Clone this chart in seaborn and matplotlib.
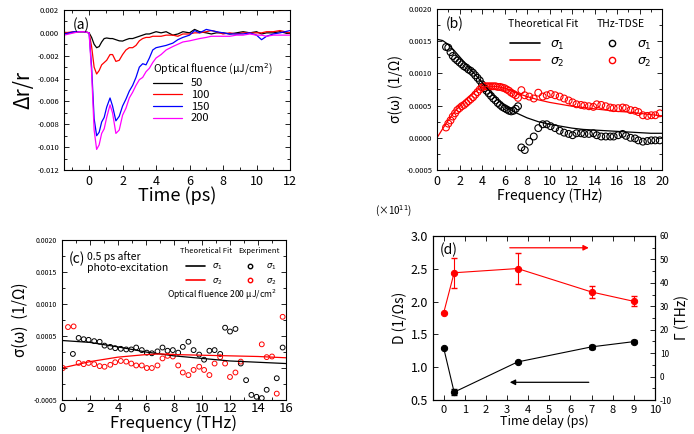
import numpy as np
import pandas as pd
import matplotlib
matplotlib.use("Agg")
import matplotlib.pyplot as plt
from matplotlib.lines import Line2D
from matplotlib.ticker import MultipleLocator, FormatStrFormatter
import seaborn as sns

sns.set_style("ticks")
plt.rcParams['font.family'] = ['Noto Sans CJK JP', 'DejaVu Sans']
plt.rcParams['axes.unicode_minus'] = False
plt.rcParams['mathtext.fontset'] = 'dejavusans'
for k in ['text.color', 'axes.labelcolor', 'axes.edgecolor', 'xtick.color', 'ytick.color']:
    plt.rcParams[k] = 'black'

# ---- panel (a): transient reflectivity
t_ps = [-1.5, -1.2, -0.9, -0.6, -0.3, 0.0, 0.15, 0.3, 0.45, 0.6, 0.75, 0.9, 1.05, 1.25, 1.4, 1.6, 1.8,
        2.0, 2.2, 2.4, 2.6, 2.8, 3.0, 3.2, 3.4, 3.6, 3.8, 4.0, 4.3, 4.6, 5.0, 5.3, 5.6, 6.0, 6.3, 6.6,
        7.0, 7.3, 7.6, 8.0, 8.4, 8.8, 9.2, 9.6, 10.0, 10.3, 10.6, 11.0, 11.4, 11.7, 12.0]
dr_50 = [0.00005, 0.0, 0.00005, 0.0001, 0.0001, 0.0, -0.0004, -0.0010, -0.0013, -0.0012, -0.0008, -0.0005,
         -0.00045, -0.0005, -0.0005, -0.0006, -0.0007, -0.00072, -0.0006, -0.0005, -0.0005, -0.0004, -0.0003,
         -0.0002, -0.0001, -0.0001, 0.0, 0.0001, 0.0, 0.0001, -0.0002, -0.0001, 0.0001, 0.0, 0.0003, 0.0001,
         0.0, -0.0001, 0.0, 0.0, -0.0001, 0.0, 0.0001, 0.0, 0.0001, -0.0001, 0.0, 0.0, 0.0001, 0.0, 0.0]
dr_100 = [0.0, 0.00005, 0.0001, 0.0001, 0.0001, 0.0, -0.0012, -0.0030, -0.0036, -0.0033, -0.0028, -0.0026,
          -0.0024, -0.0019, -0.0019, -0.0025, -0.0024, -0.0019, -0.0015, -0.0013, -0.0013, -0.0011, -0.0007,
          -0.0005, -0.0004, -0.0004, -0.0003, -0.0003, -0.0003, -0.0002, -0.0002, -0.0003, -0.0001, -0.0001,
          0.0, 0.0, 0.0001, 0.0002, 0.0001, -0.0001, 0.0, -0.0001, 0.0, 0.0, 0.0, 0.0, 0.0001, 0.0001, 0.0002,
          0.0001, 0.0]
dr_150 = [-0.0001, 0.0, 0.0001, 0.0001, 0.0001, 0.0, -0.0030, -0.0075, -0.0090, -0.0087, -0.0078, -0.0074,
          -0.0065, -0.0057, -0.0064, -0.0077, -0.0073, -0.0064, -0.0058, -0.0051, -0.0046, -0.0039, -0.0030,
          -0.0027, -0.0028, -0.0022, -0.0015, -0.0013, -0.0012, -0.0011, -0.0009, -0.0006, -0.0004, -0.0002,
          0.0002, 0.0, 0.0003, 0.0002, 0.0001, 0.0, -0.0001, -0.0001, -0.0001, 0.0, -0.0002, -0.0006, -0.0003,
          -0.0001, 0.0, 0.0001, 0.0002]
dr_200 = [-0.0002, -0.0001, 0.0, 0.0001, 0.0001, 0.0, -0.0035, -0.0085, -0.0102, -0.0098, -0.0088, -0.0084,
          -0.0074, -0.0063, -0.0070, -0.0088, -0.0085, -0.0072, -0.0066, -0.0057, -0.0052, -0.0046, -0.0041,
          -0.0039, -0.0034, -0.0031, -0.0026, -0.0022, -0.0019, -0.0015, -0.0012, -0.0010, -0.0008, -0.0007,
          -0.0006, -0.0005, -0.0004, -0.0003, -0.0003, -0.0003, -0.0003, -0.0002, -0.0002, -0.0001, -0.0002,
          -0.0002, -0.0003, -0.0002, -0.0002, -0.0002, -0.0002]
fluence_labels = ['50', '100', '150', '200']
fluence_colors = ['black', 'red', 'blue', 'magenta']

# ---- panel (b): conductivity spectra
f_fit_b = [0, 0.5, 1, 1.5, 2, 2.5, 3, 3.5, 4, 4.5, 5, 5.5, 6, 6.5, 7, 7.5, 8, 9, 10, 11, 12, 13, 14, 15,
           16, 17, 18, 19, 20]
s1_fit_b = [0.00153, 0.00151, 0.00145, 0.00136, 0.00126, 0.00116, 0.00106, 0.00096, 0.00086, 0.00076,
            0.00066, 0.00057, 0.00050, 0.00044, 0.00039, 0.00035, 0.00031, 0.00025, 0.00021, 0.00018,
            0.00015, 0.00013, 0.00012, 0.00011, 0.00010, 0.00009, 0.00008, 0.00007, 0.00007]
s2_fit_b = [0.0, 0.00014, 0.00027, 0.00039, 0.00049, 0.00058, 0.00066, 0.00073, 0.00078, 0.00080, 0.00080,
            0.00079, 0.00077, 0.00074, 0.00070, 0.00067, 0.00064, 0.00059, 0.00055, 0.00052, 0.00049,
            0.00047, 0.00045, 0.00043, 0.00041, 0.00040, 0.00038, 0.00036, 0.00034]
f_exp_b = [0.8, 1.0, 1.2, 1.4, 1.6, 1.8, 2.0, 2.2, 2.4, 2.6, 2.8, 3.0, 3.2, 3.4, 3.6, 3.8, 4.0, 4.2, 4.4,
           4.6, 4.8, 5.0, 5.2, 5.4, 5.6, 5.8, 6.0, 6.2, 6.4, 6.6, 6.8, 7.0, 7.2,
           7.5, 7.8, 8.2, 8.6, 9.0, 9.4, 9.75, 10.1, 10.5, 10.9, 11.3, 11.7, 12.05, 12.4, 12.8, 13.1, 13.5,
           13.9, 14.2, 14.6, 15.0, 15.4, 15.7, 16.1, 16.5, 16.8, 17.2, 17.6, 17.9, 18.3, 18.7, 19.05, 19.4,
           19.8]
s1_exp_b = [0.00141, 0.00140, 0.00133, 0.00127, 0.00123, 0.00120, 0.00117, 0.00114, 0.00111, 0.00109,
            0.00106, 0.00104, 0.00101, 0.00097, 0.00093, 0.00089, 0.00083, 0.00077, 0.00073, 0.00069,
            0.00065, 0.00061, 0.00058, 0.00054, 0.00051, 0.00048, 0.00046, 0.00044, 0.00042, 0.00041,
            0.00042, 0.00045, 0.00049,
            -0.00015, -0.00019, -0.00006, 0.00002, 0.00015, 0.00021, 0.00021, 0.00018, 0.00015, 0.00011,
            0.00008, 0.00006, 0.00004, 0.00007, 0.00007, 0.00006, 0.00006, 0.00007, 0.00004, 0.00002,
            0.00002, 0.00002, 0.00002, 0.00004, 0.00006, 0.00003, 0.0, -0.00001, -0.00004, -0.00006,
            -0.00005, -0.00004, -0.00004, -0.00004]
s2_exp_b = [0.00016, 0.00022, 0.00027, 0.00033, 0.00038, 0.00043, 0.00046, 0.00049, 0.00051, 0.00054,
            0.00057, 0.00060, 0.00063, 0.00067, 0.00071, 0.00075, 0.00078, 0.00080, 0.00080, 0.00080,
            0.00080, 0.00080, 0.00080, 0.00079, 0.00079, 0.00078, 0.00077, 0.00075, 0.00073, 0.00070,
            0.00068, 0.00066, 0.00062,
            0.00074, 0.00066, 0.00064, 0.00061, 0.00070, 0.00064, 0.00066, 0.00068, 0.00066, 0.00064,
            0.00061, 0.00058, 0.00055, 0.00052, 0.00051, 0.00050, 0.00049, 0.00048, 0.00052, 0.00051,
            0.00049, 0.00047, 0.00046, 0.00046, 0.00047, 0.00046, 0.00043, 0.00042, 0.00040, 0.00035,
            0.00034, 0.00035, 0.00035, 0.00038]

# ---- panel (c): 0.5 ps after photo-excitation
f_fit_c = [0, 2, 4, 6, 7, 8, 10, 12, 14, 16]
s1_fit_c = [0.00043, 0.00040, 0.00033, 0.00025, 0.00022, 0.00019, 0.00015, 0.00011, 0.00009, 0.00007]
s2_fit_c = [0.0, 0.00010, 0.00017, 0.00021, 0.00022, 0.00021, 0.00020, 0.00019, 0.00018, 0.00016]
f1_exp_c = [0.78, 1.19, 1.55, 1.9, 2.3, 2.69, 3.04, 3.45, 3.8, 4.2, 4.59, 4.95, 5.3, 5.7, 6.06, 6.42, 6.82,
            7.18, 7.54, 7.92, 8.3, 8.63, 9.03, 9.4, 9.8, 10.15, 10.53, 10.9, 11.3, 11.65, 12.0, 12.39,
            12.77, 13.15, 13.53, 13.9, 14.27, 14.62, 15.34, 15.76]
s1_exp_c = [0.00022, 0.00047, 0.00045, 0.00044, 0.00042, 0.00041, 0.00035, 0.00033, 0.00031, 0.00030,
            0.00029, 0.00029, 0.00032, 0.00028, 0.00024, 0.00023, 0.00026, 0.00032, 0.00027, 0.00028,
            0.00024, 0.00033, 0.00041, 0.00028, 0.00021, 0.00013, 0.00027, 0.00028, 0.00022, 0.00063,
            0.00057, 0.00061, 0.00007, -0.00019, -0.00042, -0.00045, -0.00047, -0.00034, -0.00016, 0.00032]
f2_exp_c = [0.07, 0.43, 0.83, 1.19, 1.55, 1.9, 2.3, 2.69, 3.04, 3.45, 3.8, 4.2, 4.59, 4.95, 5.3, 5.7, 6.06,
            6.42, 6.82, 7.18, 7.54, 7.92, 8.3, 8.63, 9.03, 9.4, 9.8, 10.15, 10.53, 10.9, 11.3, 11.65, 12.0,
            12.39, 12.77, 14.27, 14.62, 15.0, 15.34, 15.76]
s2_exp_c = [0.0, 0.00064, 0.00065, 0.00008, 0.00006, 0.00008, 0.00006, 0.00003, 0.00002, 0.00005, 0.00009,
            0.00011, 0.00010, 0.00007, 0.00004, 0.00004, 0.0, 0.0, 0.00004, 0.00015, 0.00019, 0.00018,
            0.00004, -0.00007, -0.00011, -0.00003, 0.00002, -0.00003, -0.00011, 0.00007, 0.00017, 0.00007,
            -0.00014, -0.00007, 0.00010, 0.00037, 0.00017, 0.00018, -0.00040, 0.00080]

# ---- panel (d): Drude weight and scattering rate vs delay
delay_ps = [0, 0.5, 3.5, 7, 9]
drude_D = [1.30, 0.62, 1.08, 1.31, 1.39]
drude_D_err = [0.0, 0.05, 0.02, 0.03, 0.02]
gamma_thz = [27.0, 44.3, 46.1, 36.1, 32.1]
gamma_err = [0.0, 6.3, 6.7, 2.4, 2.1]

fig = plt.figure(figsize=(6.94, 4.34), dpi=100)


def box_ticks(ax, size):
    ax.tick_params(which='both', direction='in', top=True, right=True, width=0.6)
    ax.tick_params(which='major', length=3.5)
    ax.tick_params(which='minor', length=2)
    ax.tick_params(axis='x', labelsize=size)
    for sp in ax.spines.values():
        sp.set_linewidth(0.8)


# (a)
ax_a = fig.add_axes([0.0922, 0.6083, 0.3257, 0.3687])
for y, lab, col in zip([dr_50, dr_100, dr_150, dr_200], fluence_labels, fluence_colors):
    sns.lineplot(x=t_ps, y=y, ax=ax_a, color=col, lw=0.9, label=lab, sort=False)
ax_a.set_xlim(-1.5, 12)
ax_a.set_ylim(-0.012, 0.002)
ax_a.xaxis.set_major_locator(MultipleLocator(2))
ax_a.xaxis.set_minor_locator(MultipleLocator(1))
ax_a.yaxis.set_major_locator(MultipleLocator(0.002))
ax_a.yaxis.set_minor_locator(MultipleLocator(0.001))
ax_a.yaxis.set_major_formatter(FormatStrFormatter('%.3f'))
box_ticks(ax_a, 9)
ax_a.tick_params(axis='y', labelsize=5.5)
ax_a.set_xlabel('Time (ps)', fontsize=13, labelpad=-1)
ax_a.set_ylabel('Δr/r', fontsize=15, labelpad=2)
ax_a.text(0.04, 0.95, '(a)', transform=ax_a.transAxes, fontsize=10, va='top')
leg = ax_a.legend(title='Optical fluence (μJ/cm$^2$)', frameon=False, fontsize=8,
                  title_fontsize=7.5, loc='upper left', bbox_to_anchor=(0.36, 0.73),
                  handlelength=2.6, labelspacing=0.15, borderpad=0.2)
leg._legend_box.align = 'left'

# (b)
ax_b = fig.add_axes([0.6297, 0.6083, 0.3242, 0.371])
sns.lineplot(x=f_fit_b, y=s1_fit_b, ax=ax_b, color='black', lw=0.9)
sns.lineplot(x=f_fit_b, y=s2_fit_b, ax=ax_b, color='red', lw=0.9)
sns.scatterplot(x=f_exp_b, y=s1_exp_b, ax=ax_b, s=24, facecolor='none', edgecolor='black', linewidth=0.8)
sns.scatterplot(x=f_exp_b, y=s2_exp_b, ax=ax_b, s=24, facecolor='none', edgecolor='red', linewidth=0.8)
ax_b.set_xlim(0, 20)
ax_b.set_ylim(-0.0005, 0.002)
ax_b.xaxis.set_major_locator(MultipleLocator(2))
ax_b.xaxis.set_minor_locator(MultipleLocator(1))
ax_b.yaxis.set_major_locator(MultipleLocator(0.0005))
ax_b.yaxis.set_minor_locator(MultipleLocator(0.00025))
ax_b.yaxis.set_major_formatter(FormatStrFormatter('%.4f'))
box_ticks(ax_b, 9)
ax_b.tick_params(axis='y', labelsize=5.5)
ax_b.set_xlabel('Frequency (THz)', fontsize=10, labelpad=0)
ax_b.set_ylabel('σ(ω)  (1/Ω)', fontsize=10, labelpad=2)
ax_b.text(0.04, 0.95, '(b)', transform=ax_b.transAxes, fontsize=10, va='top')
ax_b.text(0.315, 0.905, 'Theoretical Fit', transform=ax_b.transAxes, fontsize=7.5, va='center')
ax_b.text(0.71, 0.905, 'THz-TDSE', transform=ax_b.transAxes, fontsize=7.5, va='center')
hb = [Line2D([], [], color='black', lw=1.2), Line2D([], [], color='red', lw=1.2),
      Line2D([], [], ls='none', marker='o', mfc='none', mec='black', ms=4.5),
      Line2D([], [], ls='none', marker='o', mfc='none', mec='red', ms=4.5)]
ax_b.legend(hb, ['$\\sigma_1$', '$\\sigma_2$', '$\\sigma_1$', '$\\sigma_2$'], ncol=2, frameon=False,
            fontsize=9, loc='upper left', bbox_to_anchor=(0.29, 0.87), handlelength=2.4,
            columnspacing=2.6, labelspacing=0.25, borderpad=0.1)

# (c)
ax_c = fig.add_axes([0.0893, 0.0783, 0.3228, 0.3687])
sns.lineplot(x=f_fit_c, y=s1_fit_c, ax=ax_c, color='black', lw=0.9)
sns.lineplot(x=f_fit_c, y=s2_fit_c, ax=ax_c, color='red', lw=0.9)
sns.scatterplot(x=f1_exp_c, y=s1_exp_c, ax=ax_c, s=12, facecolor='none', edgecolor='black', linewidth=0.7)
sns.scatterplot(x=f2_exp_c, y=s2_exp_c, ax=ax_c, s=12, facecolor='none', edgecolor='red', linewidth=0.7)
ax_c.set_xlim(0, 16)
ax_c.set_ylim(-0.0005, 0.002)
ax_c.xaxis.set_major_locator(MultipleLocator(2))
ax_c.xaxis.set_minor_locator(MultipleLocator(1))
ax_c.yaxis.set_major_locator(MultipleLocator(0.0005))
ax_c.yaxis.set_minor_locator(MultipleLocator(0.00025))
ax_c.yaxis.set_major_formatter(FormatStrFormatter('%.4f'))
box_ticks(ax_c, 9.5)
ax_c.tick_params(axis='x', pad=1.5)
ax_c.tick_params(axis='y', labelsize=5)
ax_c.set_xlabel('Frequency (THz)', fontsize=12, labelpad=0)
ax_c.set_ylabel('σ(ω)  (1/Ω)', fontsize=11, labelpad=3)
ax_c.text(0.03, 0.88, '(c)', transform=ax_c.transAxes, fontsize=10, va='center')
ax_c.text(0.11, 0.86, '0.5 ps after\nphoto-excitation', transform=ax_c.transAxes, fontsize=7.5,
          va='center', linespacing=1.1)
ax_c.text(0.525, 0.93, 'Theoretical Fit', transform=ax_c.transAxes, fontsize=5.5, va='center')
ax_c.text(0.785, 0.93, 'Experiment', transform=ax_c.transAxes, fontsize=5.5, va='center')
ax_c.text(0.47, 0.66, 'Optical fluence 200 μJ/cm$^2$', transform=ax_c.transAxes, fontsize=6.2,
          va='center')
hc = [Line2D([], [], color='black', lw=1.2), Line2D([], [], color='red', lw=1.2),
      Line2D([], [], ls='none', marker='o', mfc='none', mec='black', ms=3.2),
      Line2D([], [], ls='none', marker='o', mfc='none', mec='red', ms=3.2)]
ax_c.legend(hc, ['$\\sigma_1$', '$\\sigma_2$', '$\\sigma_1$', '$\\sigma_2$'], ncol=2, frameon=False,
            fontsize=6, loc='upper left', bbox_to_anchor=(0.53, 0.895), handlelength=2.3,
            columnspacing=2.2, labelspacing=0.45, borderpad=0.1)

# (d)
ax_d = fig.add_axes([0.6239, 0.0783, 0.3199, 0.378])
ax_g = ax_d.twinx()
sns.lineplot(x=delay_ps, y=drude_D, ax=ax_d, color='black', lw=0.8, marker='o', ms=4.5, mec='black')
ax_d.errorbar(delay_ps, drude_D, yerr=drude_D_err, fmt='none', ecolor='black', elinewidth=0.8, capsize=2)
sns.lineplot(x=delay_ps, y=gamma_thz, ax=ax_g, color='red', lw=0.8, marker='o', ms=4.5, mec='red')
ax_g.errorbar(delay_ps, gamma_thz, yerr=gamma_err, fmt='none', ecolor='red', elinewidth=0.8, capsize=2)
ax_d.set_xlim(-0.5, 10)
ax_d.set_ylim(0.5, 3.0)
ax_g.set_ylim(-10, 60)
ax_d.xaxis.set_major_locator(MultipleLocator(1))
ax_d.yaxis.set_major_locator(MultipleLocator(0.5))
ax_d.yaxis.set_major_formatter(FormatStrFormatter('%.1f'))
ax_g.yaxis.set_major_locator(MultipleLocator(10))
ax_g.yaxis.set_minor_locator(MultipleLocator(5))
ax_d.tick_params(which='both', direction='in', top=True, width=0.6, length=3.5)
ax_d.tick_params(axis='x', labelsize=8)
ax_d.tick_params(axis='y', labelsize=9)
ax_g.tick_params(which='both', direction='in', width=0.6, labelsize=6)
ax_g.tick_params(which='minor', length=2)
ax_d.set_xlabel('Time delay (ps)', fontsize=9, labelpad=0)
ax_d.set_ylabel('D (1/Ωs)', fontsize=10, labelpad=3)
ax_g.set_ylabel('Γ (THz)', fontsize=10, labelpad=2)
ax_d.text(0.03, 0.96, '(d)', transform=ax_d.transAxes, fontsize=10, va='top')
ax_d.annotate('', xy=(7.0, 2.82), xytext=(3.0, 2.82),
              arrowprops=dict(arrowstyle='-|>', color='red', lw=0.9, mutation_scale=8))
ax_d.annotate('', xy=(3.0, 0.77), xytext=(7.0, 0.77),
              arrowprops=dict(arrowstyle='-|>', color='black', lw=0.9, mutation_scale=8))
fig.text(0.54, 0.505, '(×10$^{11}$)', fontsize=7)

fig.savefig('out.png', dpi=100)
